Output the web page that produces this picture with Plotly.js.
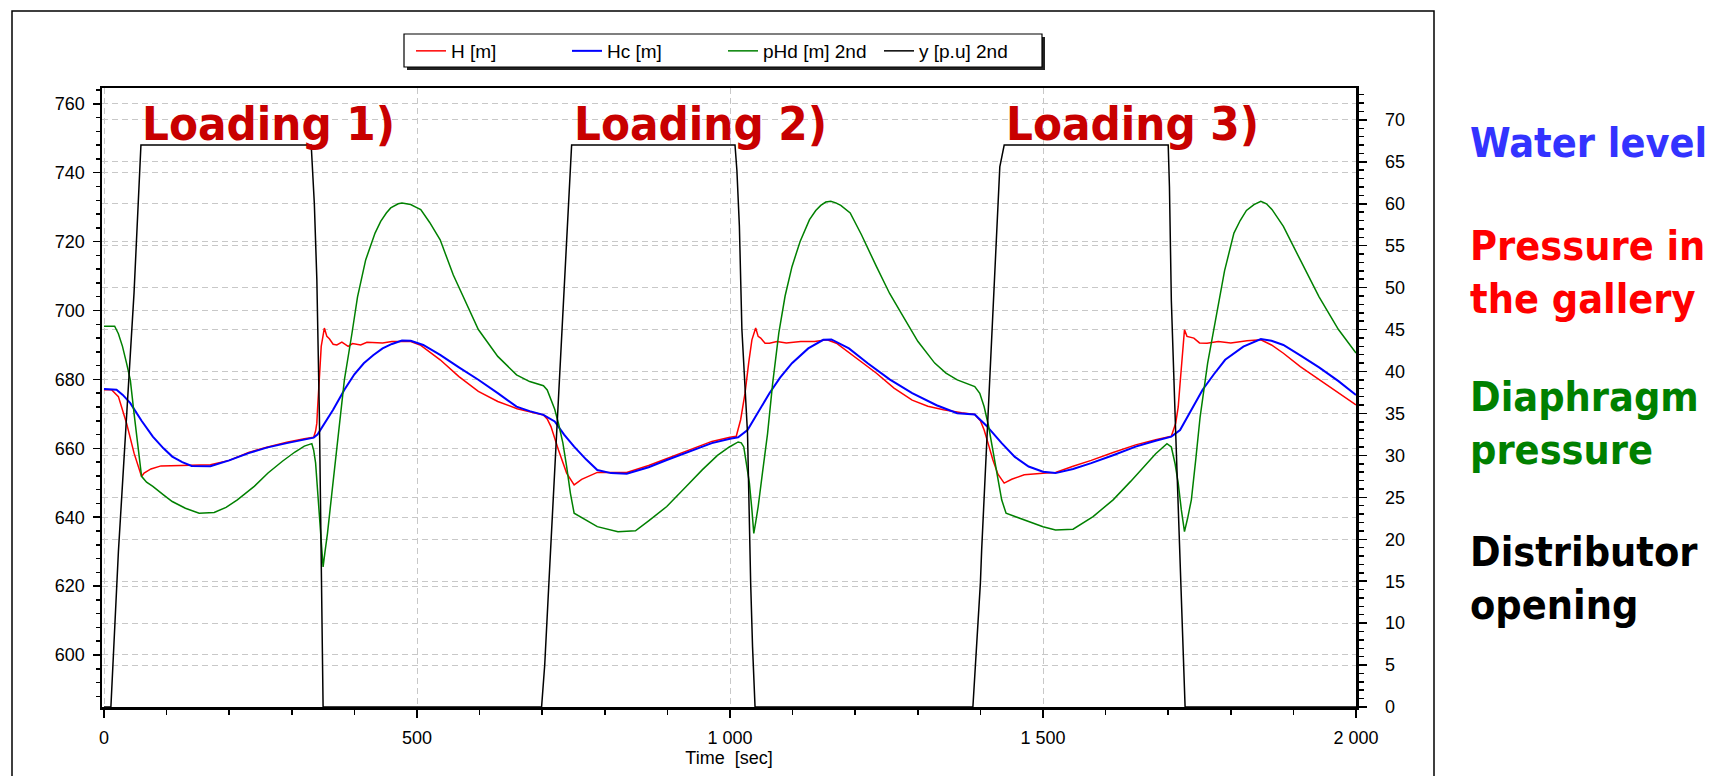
<!DOCTYPE html>
<html>
<head>
<meta charset="utf-8">
<script src="https://cdn.plot.ly/plotly-3.0.1.min.js"></script>
<style>html,body{margin:0;padding:0;background:#fff;}#chart{width:1720px;height:776px;}</style>
</head>
<body>
<div id="chart"></div>
<script>
// ---- Data ----
const T_H = [0,12,23,36,48,60,64,75,91,140,170,200,231,260,292,320,335,338,340,341,344,347,352,356,360,366,372,380,390,397,410,420,445,460,476,490,505,520,537,567,598,629,660,690,702,708,714,726,739,751,763,788,835,870,899,935,971,1000,1010,1017,1024,1030,1035,1041,1045,1049,1056,1063,1075,1090,1113,1135,1155,1170,1184,1210,1234,1262,1291,1316,1341,1370,1391,1400,1406,1413,1420,1428,1438,1450,1470,1505,1520,1548,1577,1612,1648,1680,1705,1712,1716,1719,1723,1726,1730,1741,1750,1762,1780,1800,1826,1848,1865,1884,1911,1941,1972,2000];
const H_M = [677,677,675,667.3,658.6,651.8,652.8,654,654.9,655,655.2,656.5,658.8,660.3,661.8,662.8,663.2,665,667.3,671,680,689.6,694.9,692.5,691.8,690.2,690,690.8,689.6,690.4,690,690.8,690.6,691,691,691,690,688,685.7,680.8,676.5,673.6,671.5,670.2,669.7,668.5,666.3,659.5,652.8,649.4,651,653,653,655,657,659.5,662,663.2,663.5,668.3,676,685,691.5,694.9,692.5,692,690.5,690.5,691,690.6,691,691,691.5,690.5,688.6,685,681.8,677.5,674,672.2,671.2,670.3,669.8,668,665.3,661,656.6,652.5,649.9,651,652.3,652.8,653,654.8,656.5,658.8,661,662.5,663.5,667.3,672,678.9,688,694.4,692.5,692,690.6,690.5,691,690.6,691.2,691.5,690,687.6,683.7,680,676,672.6];

const T_HC = [0,20,30,42,60,78,95,109,125,140,170,200,231,260,292,320,335,341,350,366,384,400,415,430,445,460,476,490,510,537,567,598,629,659,680,702,720,735,751,770,788,810,835,870,899,935,971,1000,1013,1028,1045,1063,1080,1099,1125,1149,1162,1190,1220,1255,1291,1330,1363,1391,1410,1434,1455,1477,1500,1520,1548,1577,1612,1648,1680,1705,1719,1737,1755,1773,1791,1820,1848,1865,1884,1911,1941,1972,2000];
const HC_M = [677.2,677,675.5,673.1,668,663.4,660,657.6,656,654.9,654.8,656.5,658.6,660.2,661.5,662.6,663.1,664,666.5,671.2,677,681.5,684.7,687,689,690.3,691.3,691.2,690,687.1,683.5,679.9,676,672.1,670.8,669.7,667.8,664,660.5,656.8,653.7,652.8,652.6,654.5,656.6,659,661.5,662.8,663.2,665.3,670.5,676,680.5,684.7,689,691.5,691.6,689,684.7,680,676,672.5,670.2,669.8,666.5,661.5,657.5,654.7,653.2,652.8,654,655.7,658,660.5,662.2,663.4,665.3,671,677,681.5,685.7,689.5,691.7,691.2,690,687,683.5,679.5,675.5];

const T_PHD = [0,17,23,29.5,36,42,48,54,60,68,78,95,109,130,152,176,195,213,240,262,285,305,320,332,335,338,341,344,347,350,353,357,364,372,378,384,396,405,418,433,442,451,458,465,470,476,483,490,498,506,520,537,558,574,598,629,659,680,696,702,708,714,720,726,733,739,745,751,770,788,821,849,870,899,930,956,980,999,1013,1018,1022,1027,1031,1035,1038,1041,1045,1052,1060,1068,1078,1088,1099,1112,1127,1137,1145,1153,1161,1169,1177,1192,1210,1234,1255,1277,1300,1327,1345,1363,1391,1399,1406,1413,1420,1427,1434,1441,1460,1477,1500,1520,1548,1580,1612,1640,1662,1680,1698,1705,1711,1716,1721,1726,1731,1737,1744,1751,1763,1776,1790,1805,1815,1825,1837,1848,1857,1866,1884,1911,1941,1972,2000];
const PHD_M = [45.4,45.4,44.5,43,41,39,35,31,27.5,26.8,26.3,25.3,24.5,23.7,23.1,23.2,23.8,24.7,26.3,27.9,29.3,30.4,31.1,31.4,30.6,29.1,26,23.1,19.5,16.7,18.5,20.7,25.5,31,35,39,44.5,48.9,53.3,56.5,57.9,58.9,59.5,59.8,60,60.1,60,59.9,59.6,59.3,57.8,55.7,51.5,48.9,45,41.8,39.6,38.8,38.4,38.3,37.8,36.6,35.5,33.8,31.5,28.7,25.5,23.1,22.3,21.5,20.9,21,22.2,23.9,26.3,28.3,30,31,31.6,31.5,31,28.5,26.7,23.5,20.7,22,23.9,28,32.6,38.5,44.6,49,52.5,55.5,58.1,59.2,59.8,60.2,60.3,60.1,59.8,58.9,56.3,52.5,49.3,46.5,43.6,41,39.8,39,38.2,37.4,35.8,33.5,30.6,27.5,24.7,23.1,22.6,22.1,21.5,21.1,21.2,22.7,24.7,26.9,28.7,30.2,31.4,31,29,26.7,23.5,20.9,22.5,24.7,29.5,34.6,41,46.5,52,56.5,58,59.2,59.9,60.3,60,59.3,57.3,53.3,48.9,45,42.2];

const T_Y = [0,11,23,36,48,59,331,336,340,344,348,350,699,704,712,724,736,743,747,1008,1011,1015,1019,1028,1031,1033,1036,1040,1388,1394,1400,1402,1413,1423,1431,1438,1700,1702,1705,1712,1718,1722,1725,1727,2000];
const Y_PU = [0,0,18.5,35,49.4,67,67,60,51,35,15,0,0,5,16.7,34,52,62,67,67,64,57.3,45,32.6,18.7,14.8,7.2,0,0,6.8,14.8,18.7,36.6,52.5,64.4,67,67,62,48.5,32.6,19.1,10.7,4.8,0,0];

const SERIES_NAMES = ['H [m]', 'Hc [m]', 'pHd [m] 2nd', 'y [p.u] 2nd'];
const X_TICK_VALS = [0, 500, 1000, 1500, 2000];
const X_TICK_TEXT = ['0', '500', '1 000', '1 500', '2 000'];
const X_TITLE = 'Time\u00a0 [sec]';
const LOADING_LABELS = ['Loading 1)', 'Loading 2)', 'Loading 3)'];
const SIDE_LABELS = ['Water level', 'Pressure in<br>the gallery', 'Diaphragm<br>pressure', 'Distributor<br>opening'];

// ---- Layout geometry (pixels) ----
const W = 1720, HGT = 776;
const PL = 102, PR = 1356, PT = 88, PB = 707;
const px2x = p => (p - PL) / (PR - PL);
const py2y = p => (PB - p) / (PB - PT);

const tickFont = {family: 'Liberation Sans, Arial, sans-serif', size: 18, color: '#000'};
const boldFam = 'DejaVu Sans Condensed, DejaVu Sans, sans-serif';

const traces = [
  {x: T_H, y: H_M, name: SERIES_NAMES[0], mode: 'lines', line: {color: '#ff0000', width: 1.5}, yaxis: 'y'},
  {x: T_HC, y: HC_M, name: SERIES_NAMES[1], mode: 'lines', line: {color: '#0000ff', width: 2}, yaxis: 'y'},
  {x: T_PHD, y: PHD_M, name: SERIES_NAMES[2], mode: 'lines', line: {color: '#008000', width: 1.5}, yaxis: 'y2'},
  {x: T_Y, y: Y_PU, name: SERIES_NAMES[3], mode: 'lines', line: {color: '#000000', width: 1.5}, yaxis: 'y2'}
];

const gridCol = '#c8c8c8';
const layout = {
  width: W, height: HGT,
  margin: {l: PL, r: W - PR, t: PT, b: HGT - PB, pad: 0},
  paper_bgcolor: '#fff', plot_bgcolor: '#fff',
  showlegend: true,
  legend: {
    orientation: 'h', x: px2x(411), y: py2y(51), xanchor: 'left', yanchor: 'middle',
    bgcolor: 'rgba(0,0,0,0)', borderwidth: 0,
    font: {family: 'Liberation Sans, Arial, sans-serif', size: 19, color: '#000'},
    entrywidth: 111, entrywidthmode: 'pixels', itemwidth: 30, tracegroupgap: 0
  },
  xaxis: {
    range: [-3.2, 2000], tickmode: 'array', tickvals: X_TICK_VALS, ticktext: X_TICK_TEXT,
    ticks: 'outside', ticklen: 8, tickwidth: 1.5, tickcolor: '#000',
    showline: true, linewidth: 2.5, linecolor: '#000', mirror: true,
    showgrid: true, gridcolor: gridCol, griddash: '6px,4px', gridwidth: 1,
    zeroline: false, tickfont: tickFont, ticklabelstandoff: 5,
    minor: {ticks: 'outside', ticklen: 5, tickwidth: 1.5, tickcolor: '#000', tick0: 0, dtick: 100, showgrid: false},
    title: {text: X_TITLE, font: {family: 'Liberation Sans, Arial, sans-serif', size: 18, color: '#000'}, standoff: 3},
    automargin: false
  },
  yaxis: {
    range: [584.9, 764.6], tick0: 0, dtick: 20,
    ticks: 'outside', ticklen: 7, tickwidth: 1.5, tickcolor: '#000',
    showline: true, linewidth: 2.5, linecolor: '#000',
    showgrid: true, gridcolor: gridCol, griddash: '6px,4px', gridwidth: 1,
    zeroline: false, tickfont: tickFont, ticklabelstandoff: 4,
    minor: {ticks: 'outside', ticklen: 4, tickwidth: 1.5, tickcolor: '#000', tick0: 0, dtick: 4, showgrid: false},
    automargin: false
  },
  yaxis2: {
    range: [0, 73.8], tick0: 0, dtick: 5, overlaying: 'y', side: 'right',
    ticks: 'outside', ticklen: 8, tickwidth: 1.5, tickcolor: '#000',
    showline: true, linewidth: 2.5, linecolor: '#000',
    showgrid: true, gridcolor: gridCol, griddash: '6px,4px', gridwidth: 1,
    zeroline: false, tickfont: tickFont, ticklabelstandoff: 15,
    minor: {ticks: 'outside', ticklen: 5, tickwidth: 1.5, tickcolor: '#000', tick0: 0, dtick: 1, showgrid: false},
    automargin: false
  },
  shapes: [
    // outer frame
    {type: 'rect', xref: 'paper', yref: 'paper', x0: px2x(12), x1: px2x(1434), y0: py2y(800), y1: py2y(11),
     line: {color: '#000', width: 1.5}, fillcolor: 'rgba(0,0,0,0)', layer: 'below'},
    // legend shadow
    {type: 'rect', xref: 'paper', yref: 'paper', x0: px2x(407), x1: px2x(1045), y0: py2y(70), y1: py2y(37),
     line: {width: 0}, fillcolor: '#222', layer: 'above'},
    // legend box
    {type: 'rect', xref: 'paper', yref: 'paper', x0: px2x(404), x1: px2x(1042), y0: py2y(67), y1: py2y(34),
     line: {color: '#000', width: 1.2}, fillcolor: '#fff', layer: 'above'}
  ],
  annotations: []
};

const loadX = [57, 747, 1437];
LOADING_LABELS.forEach((t, i) => {
  layout.annotations.push({
    text: t, xref: 'x', yref: 'paper', x: loadX[i], y: py2y(124), xanchor: 'left', yanchor: 'middle',
    showarrow: false, font: {family: boldFam, size: 47, color: '#c80000', weight: 700}
  });
});

const sideColors = ['#3333ff', '#ff0000', '#008000', '#000000'];
const sideY = [143, 272, 423, 578];
SIDE_LABELS.forEach((t, i) => {
  layout.annotations.push({
    text: t, xref: 'paper', yref: 'paper', x: px2x(1468), y: py2y(sideY[i]), xanchor: 'left', yanchor: 'middle',
    align: 'left', showarrow: false, font: {family: boldFam, size: 41, color: sideColors[i], weight: 700}
  });
});

Plotly.newPlot('chart', traces, layout, {staticPlot: true, displayModeBar: false});
</script>
</body>
</html>
